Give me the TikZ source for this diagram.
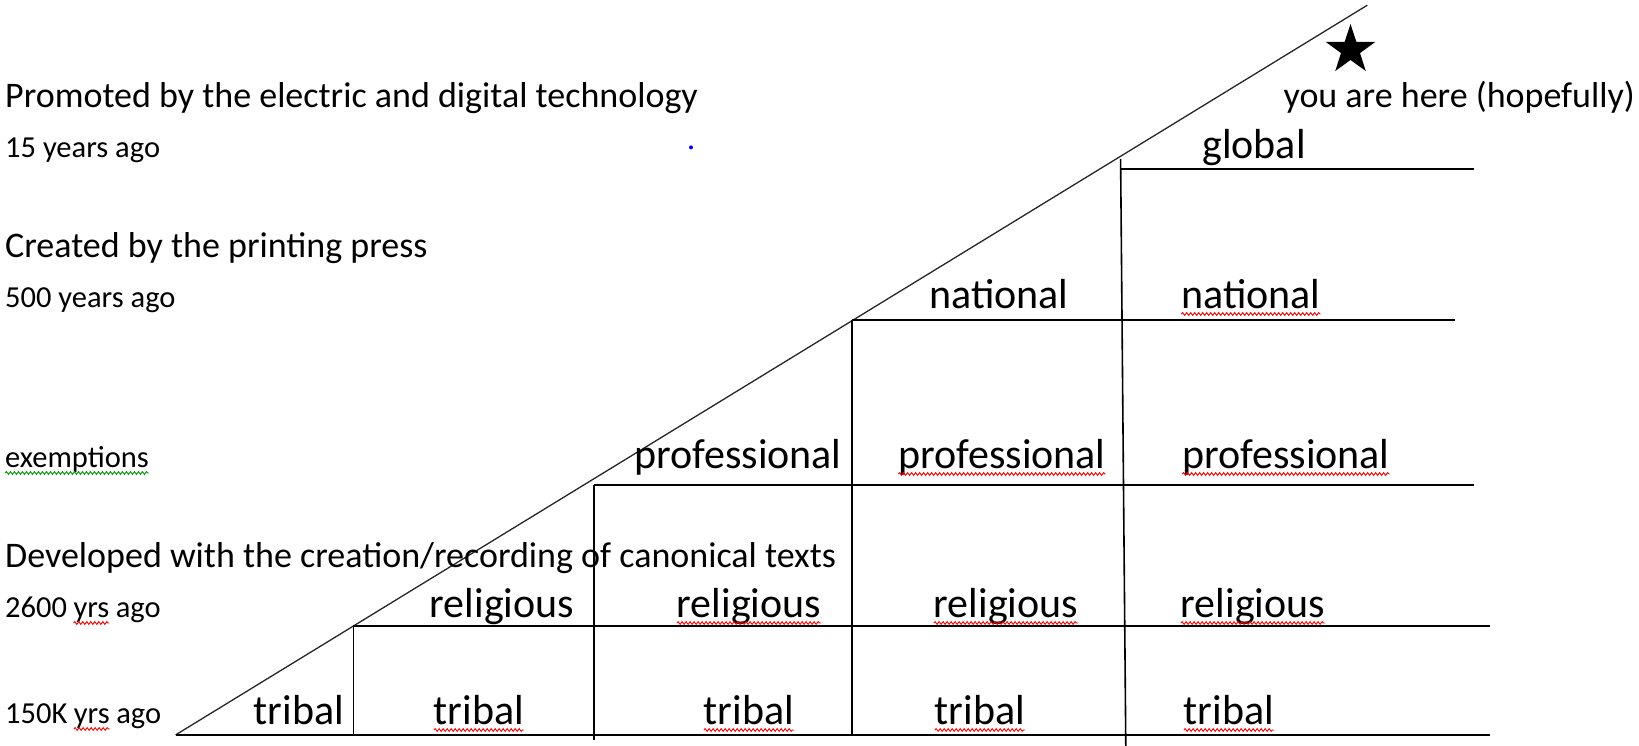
\documentclass[tikz,border=0pt]{standalone}
\usepackage{fontspec}
\setmainfont{Carlito}
\usetikzlibrary{shapes.geometric,decorations.pathmorphing}
\begin{document}
\begin{tikzpicture}[x=1pt,y=-1pt,
  every node/.style={inner sep=0pt,outer sep=0pt},
  biglabel/.style={anchor=base,font=\fontsize{42}{48}\selectfont},
  headtext/.style={anchor=base west,font=\fontsize{36}{42}\selectfont},
  smalltext/.style={anchor=base west,font=\fontsize{30.5}{35}\selectfont},
  gridline/.style={line width=1.8pt},
  vertline/.style={line width=1.6pt},
  diagline/.style={line width=1.3pt,black!85},
  squigred/.style={red,line width=0.9pt,decorate,decoration={snake,amplitude=1.4pt,segment length=4pt}},
  squiggreen/.style={green!60!black,line width=0.9pt,decorate,decoration={snake,amplitude=1.4pt,segment length=4pt}}]
\useasboundingbox (0,0) rectangle (1639,746);
% corner coordinates
\coordinate (d0) at (175.6,734.9);
\coordinate (d1) at (1367.3,5.2);
\coordinate (b0) at (175.6,734.9);
\coordinate (b1) at (1489.6,734.9);
\coordinate (r0) at (353.3,626.1);
\coordinate (r1) at (1489.6,626.1);
\coordinate (p0) at (593.7,485.0);
\coordinate (p1) at (1473.9,485.0);
\coordinate (n0) at (851.9,319.9);
\coordinate (n1) at (1455.1,319.9);
\coordinate (g0) at (1120.6,169.3);
\coordinate (g1) at (1473.9,169.3);
\coordinate (v1b) at (353.3,734.9);
\coordinate (v2b) at (593.7,740);
\coordinate (v3b) at (851.9,734.9);
\coordinate (v4t) at (1120.6,158.9);
\coordinate (v4b) at (1125.8,746);
% lines
\draw[diagline] (d0) -- (d1);
\draw[gridline] (b0) -- (b1);
\draw[gridline] (r0) -- (r1);
\draw[gridline] (p0) -- (p1);
\draw[gridline] (n0) -- (n1);
\draw[gridline] (g0) -- (g1);
\draw[vertline] (r0) -- (v1b);
\draw[vertline] (p0) -- (v2b);
\draw[vertline] (n0) -- (v3b);
\draw[vertline] (v4t) -- (v4b);
% labels
\node[biglabel] (t1) at (299,724) {tribal};
\node[biglabel] (t2) at (479,724) {tribal};
\node[biglabel] (t3) at (749,724) {tribal};
\node[biglabel] (t4) at (980,724) {tribal};
\node[biglabel] (t5) at (1229,724) {tribal};
\node[biglabel] (re1) at (502,617) {religious};
\node[biglabel] (re2) at (749,617) {religious};
\node[biglabel] (re3) at (1006,617) {religious};
\node[biglabel] (re4) at (1253,617) {religious};
\node[biglabel] (pr1) at (738,468) {professional};
\node[biglabel] (pr2) at (1002,468) {professional};
\node[biglabel] (pr3) at (1286,468) {professional};
\node[biglabel] (na1) at (999,308) {national};
\node[biglabel] (na2) at (1251,308) {national};
\node[biglabel] (gl) at (1254,159) {global};
% squiggles
\foreach \n in {t2,t3,t4,t5,re2,re3,re4,pr2,pr3,na2}
  \draw[squigred] ([yshift=-6pt]\n.base west) -- ([yshift=-6pt]\n.base east);
% star and note
\node[star,star points=5,star point ratio=2.6,fill=black,minimum size=52pt] (star) at (1350.5,50) {};
\node[headtext] (here) at (1283.6,107.7) {you are here (hopefully)};
% left texts
\node[headtext] (h1) at (5.2,107.7) {Promoted by the electric and digital technology};
\node[smalltext] (s1) at (5.2,158) {15 years ago};
\node[headtext] (h2) at (5.2,258) {Created by the printing press};
\node[smalltext] (s2) at (5.2,307) {500 years ago};
\node[smalltext] (ex) at (5.2,467) {exemptions};
\draw[squiggreen] ([yshift=-6pt]ex.base west) -- ([yshift=-6pt]ex.base east);
\node[headtext] (h3) at (5.2,567.6) {Developed with the creation/recording of canonical texts};
\node[smalltext] (s3a) at (5.2,617) {2600};
\node[smalltext] (s3b) at ([xshift=6.5pt]s3a.base east) {yrs};
\node[smalltext] (s3c) at ([xshift=6.5pt]s3b.base east) {ago};
\draw[squigred] ([yshift=-6pt]s3b.base west) -- ([yshift=-6pt]s3b.base east);
\node[smalltext] (s4a) at (5.2,723) {150K};
\node[smalltext] (s4b) at ([xshift=6.5pt]s4a.base east) {yrs};
\node[smalltext] (s4c) at ([xshift=6.5pt]s4b.base east) {ago};
\draw[squigred] ([yshift=-6pt]s4b.base west) -- ([yshift=-6pt]s4b.base east);
% blue dot
\fill[blue] (691,147.4) circle (2pt);
\end{tikzpicture}
\end{document}
